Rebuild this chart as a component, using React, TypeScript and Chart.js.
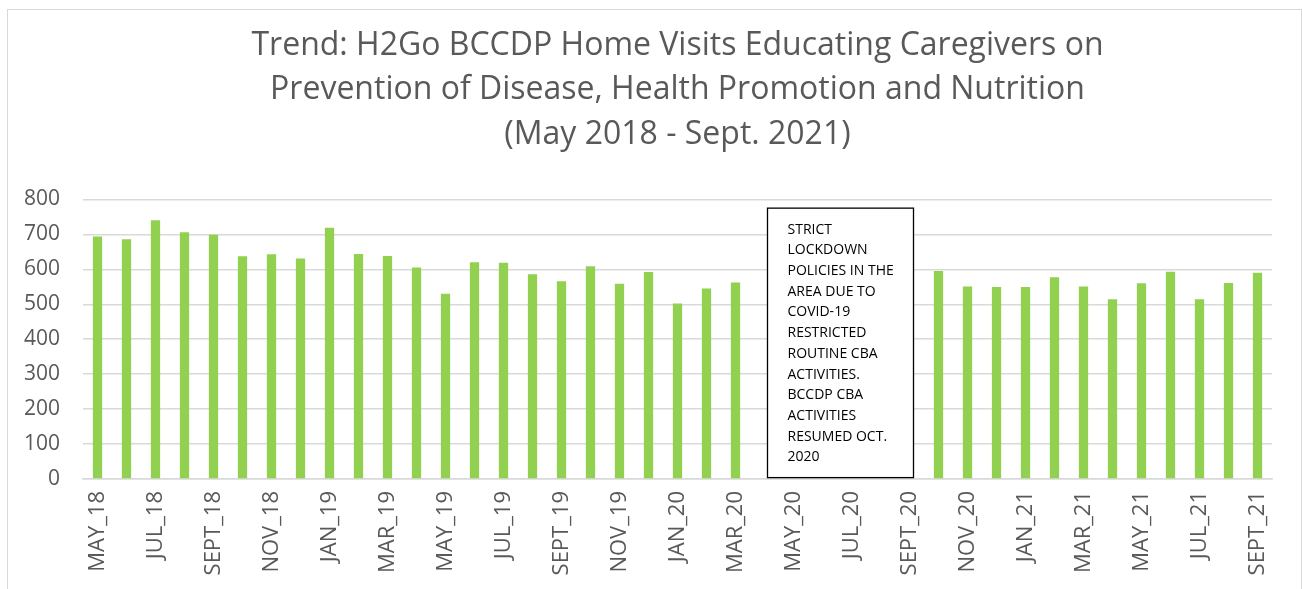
import React, { useEffect, useRef } from "react";
import { Chart, registerables } from "chart.js";

Chart.register(...registerables);

const titleLines = [
  "Trend: H2Go BCCDP Home Visits Educating Caregivers on",
  "Prevention of Disease, Health Promotion and Nutrition",
  "(May 2018 - Sept. 2021)",
];

const categories = [
  "MAY_18", "JUN_18", "JUL_18", "AUG_18", "SEPT_18", "OCT_18", "NOV_18", "DEC_18",
  "JAN_19", "FEB_19", "MAR_19", "APR_19", "MAY_19", "JUN_19", "JUL_19", "AUG_19", "SEPT_19", "OCT_19", "NOV_19", "DEC_19",
  "JAN_20", "FEB_20", "MAR_20", "APR_20", "MAY_20", "JUN_20", "JUL_20", "AUG_20", "SEPT_20", "OCT_20", "NOV_20", "DEC_20",
  "JAN_21", "FEB_21", "MAR_21", "APR_21", "MAY_21", "JUN_21", "JUL_21", "AUG_21", "SEPT_21",
];

const homeVisits: (number | null)[] = [
  694, 686, 740, 706, 699, 637, 643, 631,
  719, 644, 638, 605, 530, 620, 619, 586, 566, 609, 559, 592,
  502, 545, 562, null, null, null, null, null, null, 595, 551, 549,
  549, 577, 551, 514, 560, 593, 514, 561, 590,
];

const yTicks = [0, 100, 200, 300, 400, 500, 600, 700, 800];

const noteLines = [
  "STRICT",
  "LOCKDOWN",
  "POLICIES IN THE",
  "AREA DUE TO",
  "COVID-19",
  "RESTRICTED",
  "ROUTINE CBA",
  "ACTIVITIES.",
  "BCCDP CBA",
  "ACTIVITIES",
  "RESUMED OCT.",
  "2020",
];

const FONT = "'Open Sans', 'Noto Sans', sans-serif";
const TEXT = "#595959";
const GRID = "#d9d9d9";

const noteBox = {
  id: "noteBox",
  afterDatasetsDraw(chart: any) {
    const { ctx } = chart;
    const x = chart.scales.x;
    const y = chart.scales.y;
    const left = x.getPixelForValue(23) + 3;
    const right = x.getPixelForValue(28) + 4;
    const top = y.getPixelForValue(775);
    const bottom = y.getPixelForValue(4);
    ctx.save();
    ctx.fillStyle = "#ffffff";
    ctx.fillRect(left, top, right - left, bottom - top);
    ctx.strokeStyle = "#000000";
    ctx.lineWidth = 1.3;
    ctx.strokeRect(left, top, right - left, bottom - top);
    ctx.fillStyle = "#000000";
    ctx.font = `14px ${FONT}`;
    ctx.textAlign = "left";
    ctx.textBaseline = "alphabetic";
    noteLines.forEach((line, i) => {
      ctx.fillText(line, left + 20, top + 25.5 + i * 20.7);
    });
    ctx.restore();
  },
};

export default function App() {
  const canvasRef = useRef<HTMLCanvasElement>(null);

  useEffect(() => {
    document.documentElement.style.overflow = "hidden";
    const canvas = canvasRef.current;
    if (!canvas) return;
    const chart = new Chart(canvas, {
      type: "bar",
      data: {
        labels: categories,
        datasets: [
          {
            label: "Home visits",
            data: homeVisits,
            backgroundColor: "#92D050",
            borderWidth: 0,
            barPercentage: 0.32,
            categoryPercentage: 1,
          },
        ],
      },
      options: {
        responsive: false,
        animation: false,
        devicePixelRatio: 1,
        layout: { padding: { left: 0, right: 29, top: 0, bottom: 0 } },
        plugins: {
          legend: { display: false },
          tooltip: { enabled: false },
          title: {
            display: true,
            text: titleLines,
            fullSize: false,
            color: TEXT,
            font: { family: FONT, size: 32, weight: "normal", lineHeight: 1.4 },
            padding: { top: 13, bottom: 42 },
          },
        },
        scales: {
          x: {
            grid: { display: false, drawTicks: false },
            border: { display: true, color: GRID, width: 1.5 },
            ticks: {
              autoSkip: false,
              maxRotation: 90,
              minRotation: 90,
              padding: 12,
              color: TEXT,
              font: { family: FONT, size: 22 },
              callback: (_v: any, i: number) => (i % 2 === 0 ? categories[i] : ""),
            },
            afterFit: (s: any) => {
              s.height = 110;
            },
          },
          y: {
            min: 0,
            max: 800,
            afterBuildTicks: (s: any) => {
              s.ticks = yTicks.map((v) => ({ value: v }));
            },
            grid: { color: GRID, lineWidth: 1.5, drawTicks: false },
            border: { display: false },
            ticks: {
              padding: 23,
              color: TEXT,
              font: { family: FONT, size: 21 },
            },
            afterFit: (s: any) => {
              s.width = 75;
            },
          },
        },
      },
      plugins: [noteBox],
    });
    return () => chart.destroy();
  }, []);

  return (
    <div
      style={{
        position: "absolute",
        left: 7,
        top: 9,
        width: 1293,
        height: 620,
        border: "1px solid #d9d9d9",
        background: "#fff",
      }}
    >
      <canvas ref={canvasRef} width={1293} height={579} style={{ display: "block" }} />
    </div>
  );
}
